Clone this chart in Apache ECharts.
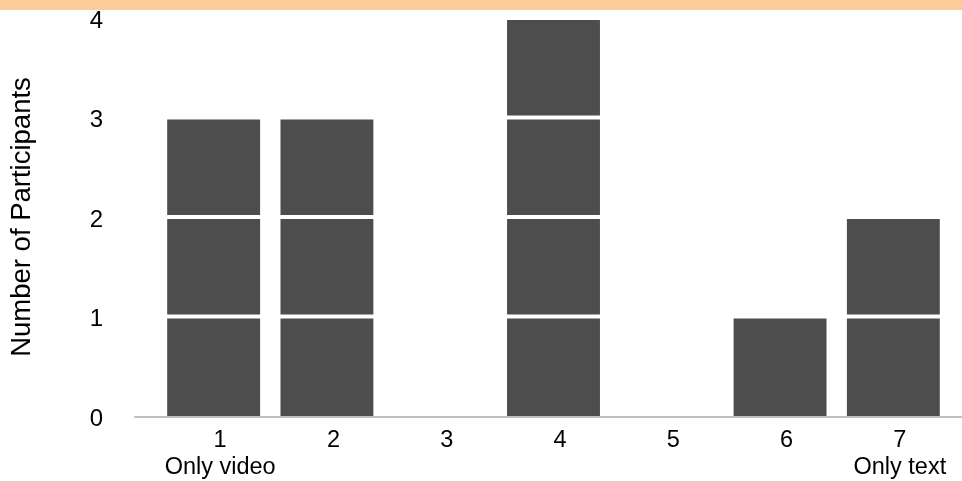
<!DOCTYPE html>
<html>
<head>
<meta charset="utf-8">
<script src="https://cdn.jsdelivr.net/npm/echarts@6/dist/echarts.min.js"></script>
<style>
html,body{margin:0;padding:0;background:#fff;}
#chart{width:962px;height:481px;}
</style>
</head>
<body>
<div id="chart"></div>
<script>
const categories = ['1', '2', '3', '4', '5', '6', '7'];
const subLabels = ['Only video', '', '', '', '', '', 'Only text'];
const participants = [3, 3, 0, 4, 0, 1, 2];
const yTicks = [0, 1, 2, 3, 4];
const yTitle = 'Number of Participants';

function renderStackedUnits(params, api) {
  const idx = api.value(0);
  const total = api.value(1);
  const band = api.size([1, 0])[0];
  const bw = band * 0.82;
  const cx = api.coord([idx, 0])[0];
  const children = [];
  for (let k = 1; k <= total; k++) {
    const yTop = api.coord([idx, k])[1] + 2;
    const yBot = k === 1 ? api.coord([idx, 0])[1] : api.coord([idx, k - 1])[1] - 2;
    children.push({
      type: 'rect',
      shape: { x: cx - bw / 2, y: yTop, width: bw, height: yBot - yTop },
      style: { fill: '#4D4D4D' }
    });
  }
  return { type: 'group', children: children };
}

const chart = echarts.init(document.getElementById('chart'), null, { renderer: 'canvas' });
chart.setOption({
  animation: false,
  backgroundColor: '#ffffff',
  textStyle: { fontFamily: 'Liberation Sans, Arial, sans-serif' },
  graphic: [{
    type: 'rect', left: 0, top: 0, silent: true, z: 10,
    shape: { width: 962, height: 10 },
    style: { fill: '#FBCC98' }
  }],
  grid: [
    { left: 156.5, right: 12, top: 18, bottom: 64, containLabel: false },
    { left: 135, right: 0, top: 18, bottom: 64, containLabel: false }
  ],
  xAxis: [{
    type: 'category',
    gridIndex: 0,
    data: categories,
    boundaryGap: true,
    axisLine: { show: false },
    axisTick: { show: false },
    axisLabel: {
      interval: 0,
      hideOverlap: false,
      margin: 11,
      padding: [0, 0, 0, 13],
      color: '#000',
      fontSize: 23.5,
      lineHeight: 27,
      align: 'center',
      formatter: function (v, i) {
        return subLabels[i] ? v + '\n' + subLabels[i] : v;
      }
    }
  }, {
    type: 'value',
    gridIndex: 1,
    min: 0, max: 1,
    splitLine: { show: false },
    axisTick: { show: false },
    axisLabel: { show: false },
    axisLine: { show: true, onZero: false, lineStyle: { color: '#BFBFBF', width: 2 } }
  }],
  yAxis: [{
    type: 'value',
    gridIndex: 0,
    min: yTicks[0],
    max: yTicks[yTicks.length - 1],
    interval: 1,
    splitLine: { show: false },
    axisLine: { show: false },
    axisTick: { show: false },
    axisLabel: {
      color: '#000', fontSize: 24, margin: 54,
      formatter: function (v) { return '{t|' + v + '}'; },
      rich: { t: { fontSize: 24, color: '#000', padding: [6, 0, 0, 0] } }
    },
    name: yTitle,
    nameLocation: 'middle',
    nameRotate: 90,
    nameGap: 121,
    nameTextStyle: { color: '#000', fontSize: 27.5 }
  }, {
    type: 'value',
    gridIndex: 1,
    show: false,
    min: 0, max: 1
  }],
  series: [{
    type: 'custom',
    xAxisIndex: 0,
    yAxisIndex: 0,
    silent: true,
    renderItem: renderStackedUnits,
    data: participants.map((v, i) => [i, v])
  }]
});
</script>
</body>
</html>
